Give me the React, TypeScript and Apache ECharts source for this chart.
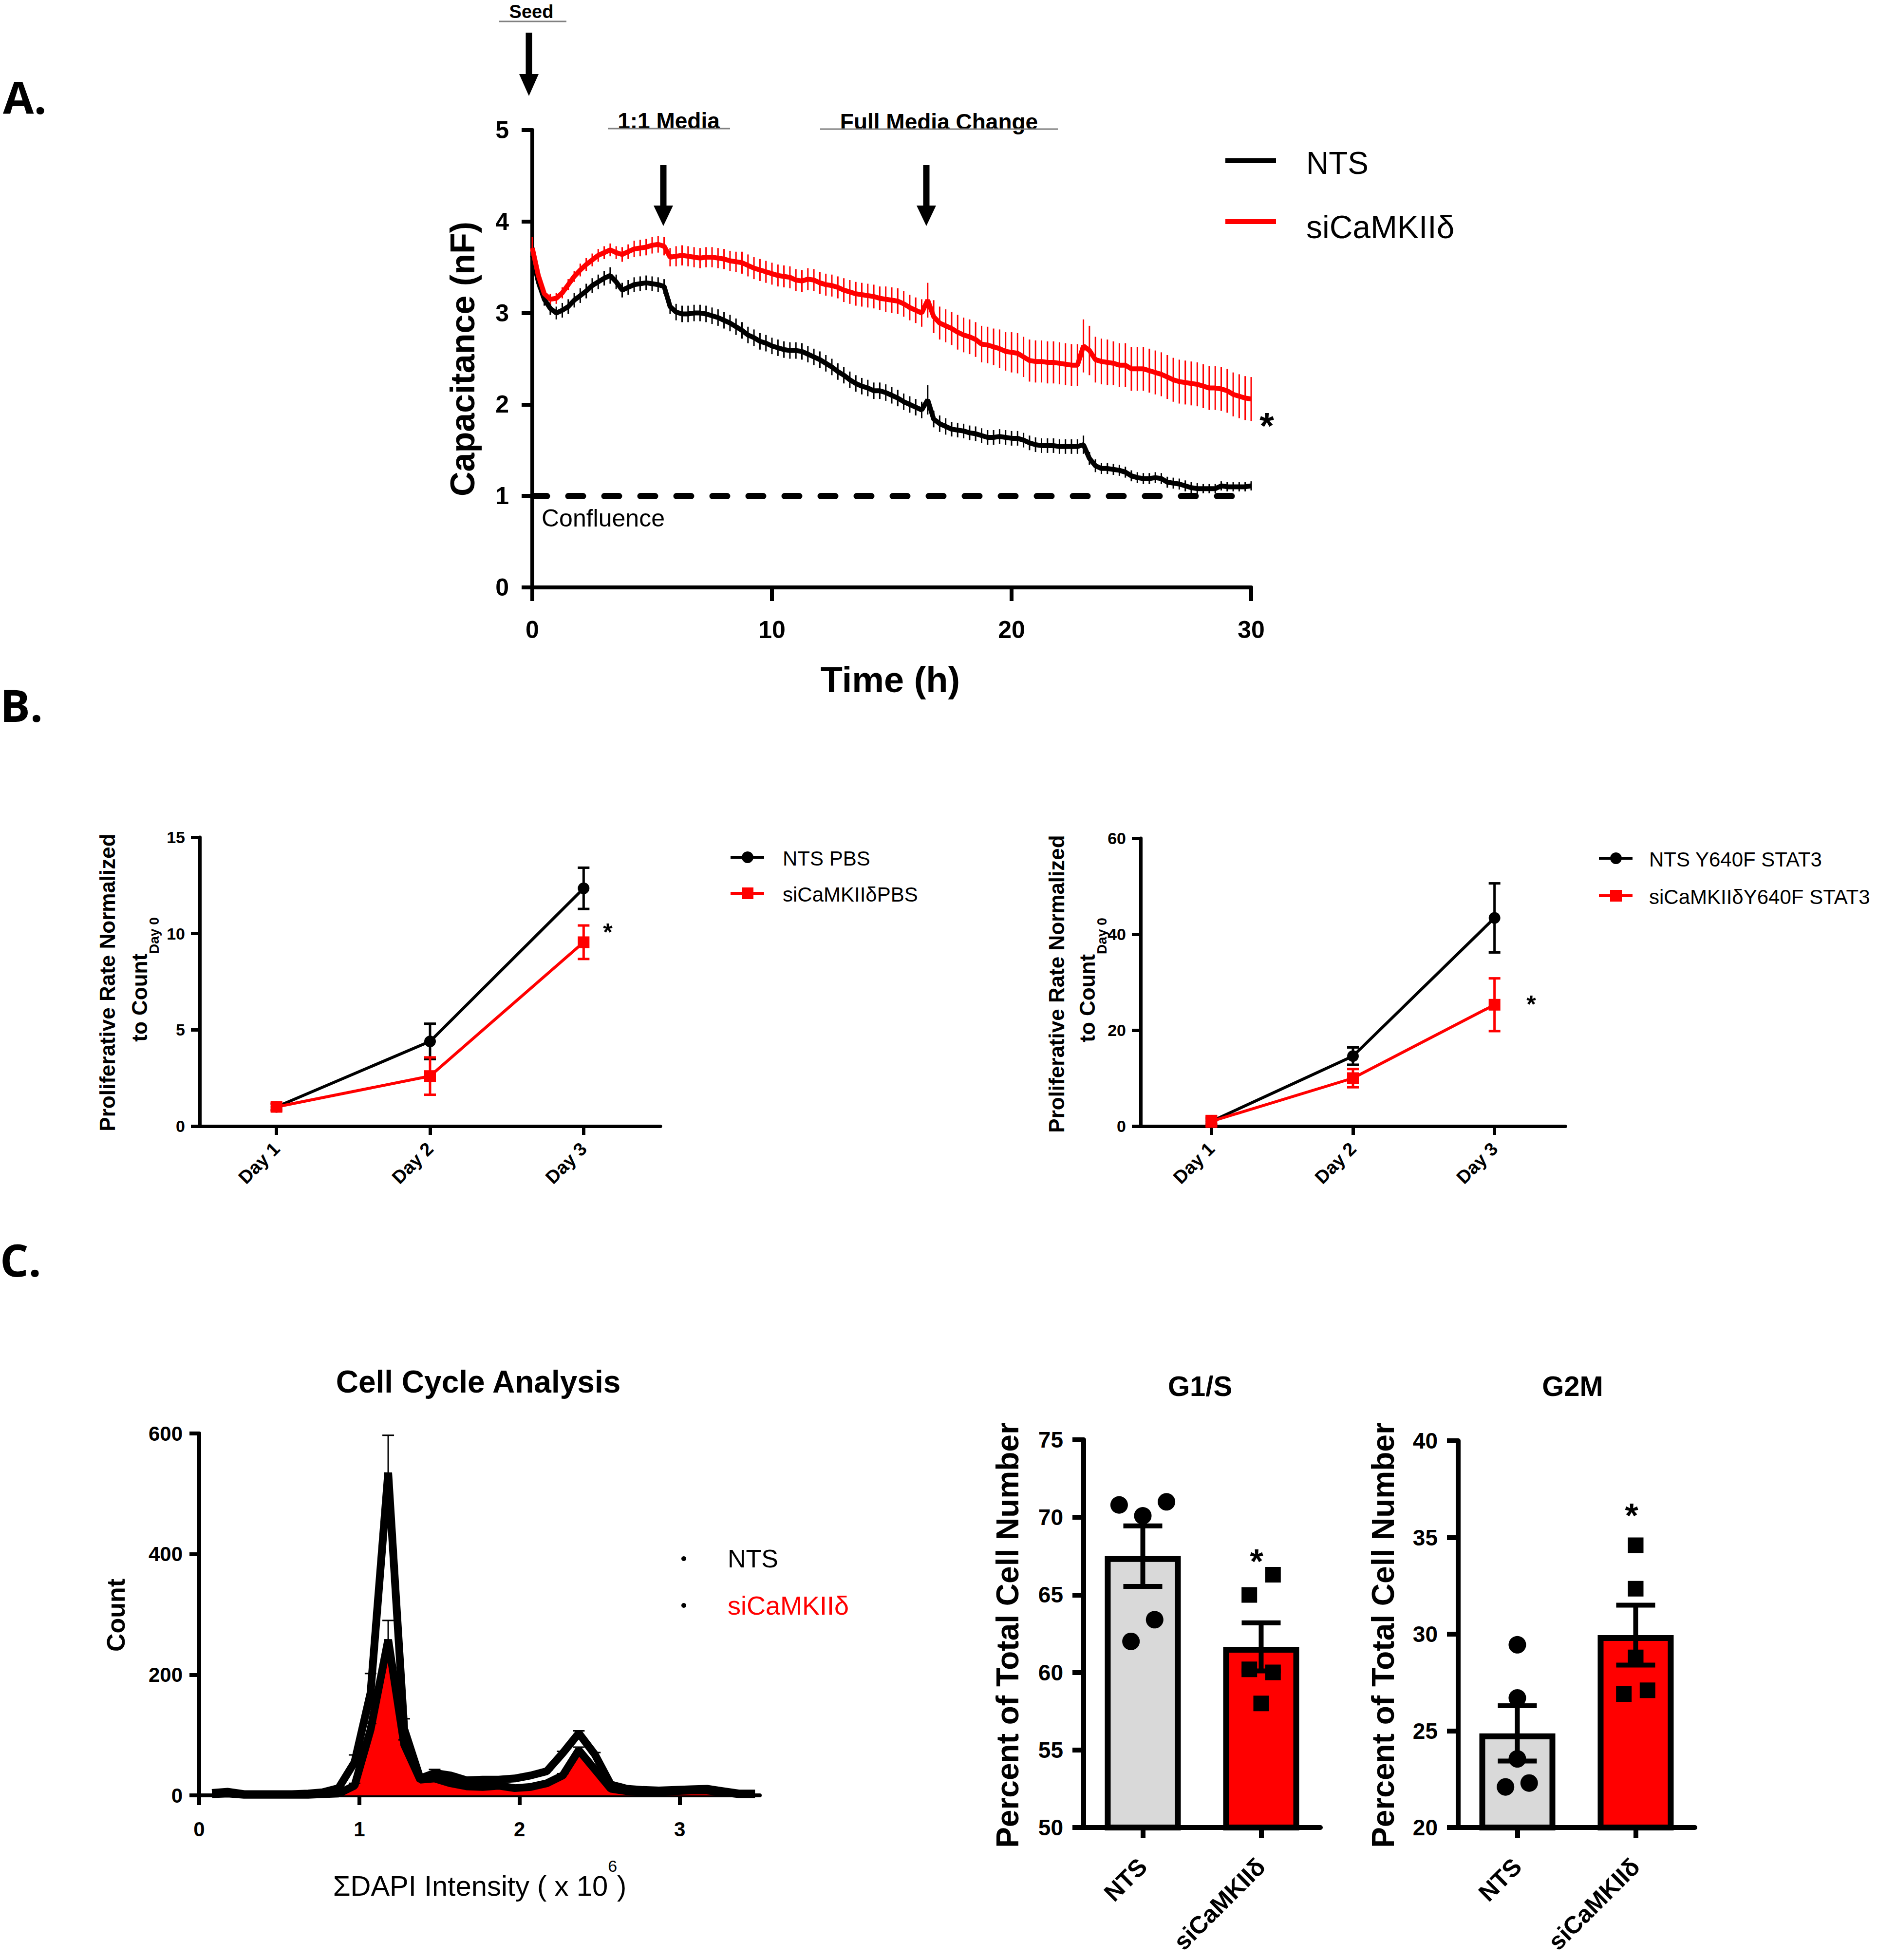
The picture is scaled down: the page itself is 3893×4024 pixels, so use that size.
import React, { useEffect, useRef } from "react";
import * as echarts from "echarts";

// ---------------- Panel A: capacitance time course ----------------
const timeH = [
  0, 0.25, 0.5, 0.75, 1, 1.25, 1.5, 1.75,
  2, 2.25, 2.5, 2.75, 3, 3.25, 3.5, 3.75,
  4, 4.25, 4.5, 4.75, 5, 5.25, 5.5, 5.75,
  6, 6.25, 6.5, 6.75, 7, 7.25, 7.5, 7.75,
  8, 8.25, 8.5, 8.75, 9, 9.25, 9.5, 9.75,
  10, 10.25, 10.5, 10.75, 11, 11.25, 11.5, 11.75,
  12, 12.25, 12.5, 12.75, 13, 13.25, 13.5, 13.75,
  14, 14.25, 14.5, 14.75, 15, 15.25, 15.5, 15.75,
  16, 16.25, 16.5, 16.75, 17, 17.25, 17.5, 17.75,
  18, 18.25, 18.5, 18.75, 19, 19.25, 19.5, 19.75,
  20, 20.25, 20.5, 20.75, 21, 21.25, 21.5, 21.75,
  22, 22.25, 22.5, 22.75, 23, 23.25, 23.5, 23.75,
  24, 24.25, 24.5, 24.75, 25, 25.25, 25.5, 25.75,
  26, 26.25, 26.5, 26.75, 27, 27.25, 27.5, 27.75,
  28, 28.25, 28.5, 28.75, 29, 29.25, 29.5, 29.75,
  30,
];
const ntsCap = [
  3.63, 3.34, 3.15, 3.05, 3.0, 3.03, 3.07, 3.14,
  3.19, 3.24, 3.3, 3.34, 3.38, 3.41, 3.34, 3.25,
  3.28, 3.31, 3.32, 3.33, 3.32, 3.31, 3.29, 3.07,
  3.01, 2.99, 2.99, 3.0, 3.0, 2.99, 2.97, 2.95,
  2.92, 2.89, 2.85, 2.81, 2.76, 2.73, 2.69, 2.67,
  2.64, 2.62, 2.6, 2.59, 2.59, 2.58, 2.55, 2.52,
  2.49, 2.45, 2.41, 2.36, 2.32, 2.27, 2.23, 2.2,
  2.18, 2.15, 2.15, 2.13, 2.1, 2.07, 2.03, 2.0,
  1.97, 1.94, 2.05, 1.84, 1.79, 1.76, 1.73, 1.72,
  1.71, 1.69, 1.68, 1.66, 1.64, 1.64, 1.65, 1.64,
  1.63, 1.63, 1.61, 1.58, 1.56, 1.55, 1.55, 1.55,
  1.54, 1.54, 1.54, 1.54, 1.56, 1.41, 1.33, 1.3,
  1.3, 1.29, 1.28, 1.26, 1.22, 1.2, 1.19, 1.19,
  1.2, 1.19, 1.15, 1.14, 1.13, 1.11, 1.09, 1.08,
  1.08, 1.08, 1.08, 1.11, 1.1, 1.1, 1.1, 1.1,
  1.11,
];
const ntsCapErr = [
  0.08, 0.07, 0.07, 0.07, 0.07, 0.08, 0.08, 0.08,
  0.08, 0.08, 0.08, 0.08, 0.08, 0.09, 0.08, 0.08,
  0.08, 0.08, 0.08, 0.08, 0.08, 0.08, 0.08, 0.08,
  0.09, 0.09, 0.09, 0.09, 0.09, 0.09, 0.09, 0.09,
  0.09, 0.09, 0.09, 0.09, 0.09, 0.09, 0.09, 0.09,
  0.09, 0.09, 0.09, 0.09, 0.09, 0.09, 0.09, 0.09,
  0.09, 0.09, 0.09, 0.09, 0.09, 0.09, 0.09, 0.09,
  0.09, 0.09, 0.09, 0.09, 0.09, 0.09, 0.09, 0.09,
  0.09, 0.09, 0.16, 0.09, 0.09, 0.09, 0.08, 0.08,
  0.08, 0.08, 0.08, 0.08, 0.08, 0.08, 0.08, 0.08,
  0.08, 0.08, 0.08, 0.08, 0.08, 0.08, 0.08, 0.08,
  0.08, 0.08, 0.08, 0.08, 0.1, 0.07, 0.07, 0.06,
  0.06, 0.06, 0.06, 0.06, 0.06, 0.06, 0.06, 0.06,
  0.06, 0.06, 0.06, 0.06, 0.06, 0.06, 0.06, 0.06,
  0.05, 0.05, 0.05, 0.05, 0.05, 0.05, 0.05, 0.05,
  0.05,
];
const siCap = [
  3.71, 3.41, 3.21, 3.15, 3.16, 3.22, 3.31, 3.4,
  3.47, 3.53, 3.58, 3.63, 3.66, 3.69, 3.66, 3.64,
  3.67, 3.7, 3.71, 3.72, 3.74, 3.75, 3.73, 3.61,
  3.62, 3.63, 3.62, 3.61, 3.6, 3.61, 3.61, 3.6,
  3.59, 3.57, 3.56, 3.55, 3.52, 3.49, 3.47, 3.45,
  3.43, 3.41, 3.4, 3.39, 3.36, 3.35, 3.37, 3.36,
  3.33, 3.31, 3.3, 3.28, 3.25, 3.23, 3.21, 3.2,
  3.19, 3.18, 3.16, 3.15, 3.14, 3.13, 3.1, 3.06,
  3.03, 3.0, 3.14, 2.96, 2.89, 2.86, 2.83, 2.79,
  2.76, 2.74, 2.71, 2.66, 2.65, 2.63, 2.61, 2.58,
  2.57, 2.56, 2.52, 2.48, 2.47, 2.47, 2.46, 2.46,
  2.45, 2.44, 2.43, 2.43, 2.64, 2.59, 2.49, 2.47,
  2.46, 2.45, 2.43, 2.43, 2.39, 2.39, 2.39, 2.37,
  2.35, 2.33, 2.3, 2.27, 2.25, 2.24, 2.23, 2.22,
  2.2, 2.18, 2.18, 2.17, 2.15, 2.11, 2.09, 2.07,
  2.06,
];
const siCapErr = [
  0.12, 0.06, 0.06, 0.06, 0.06, 0.06, 0.06, 0.06,
  0.07, 0.07, 0.07, 0.07, 0.07, 0.07, 0.07, 0.08,
  0.08, 0.09, 0.09, 0.09, 0.09, 0.09, 0.1, 0.1,
  0.11, 0.11, 0.11, 0.11, 0.11, 0.11, 0.11, 0.11,
  0.11, 0.11, 0.11, 0.12, 0.12, 0.12, 0.12, 0.12,
  0.12, 0.12, 0.12, 0.12, 0.12, 0.12, 0.12, 0.12,
  0.12, 0.12, 0.12, 0.12, 0.13, 0.13, 0.13, 0.13,
  0.13, 0.13, 0.13, 0.14, 0.14, 0.14, 0.14, 0.14,
  0.14, 0.15, 0.19, 0.18, 0.18, 0.18, 0.18, 0.19,
  0.19, 0.19, 0.19, 0.2, 0.2, 0.2, 0.21, 0.21,
  0.22, 0.22, 0.22, 0.23, 0.23, 0.23, 0.23, 0.23,
  0.23, 0.23, 0.23, 0.23, 0.29, 0.27, 0.25, 0.25,
  0.25, 0.24, 0.24, 0.24, 0.24, 0.24, 0.24, 0.24,
  0.24, 0.24, 0.24, 0.24, 0.24, 0.24, 0.24, 0.24,
  0.24, 0.24, 0.24, 0.24, 0.24, 0.24, 0.24, 0.24,
  0.24,
];
const confluenceLevel = 1;

// ---------------- Panel B: proliferation ----------------
const days = ["Day 1", "Day 2", "Day 3"];
const ntsPbs = [1.0, 4.4, 12.35];
const ntsPbsErr = [0.15, 0.92, 1.07];
const siPbs = [1.0, 2.6, 9.55];
const siPbsErr = [0.2, 0.97, 0.87];
const ntsStat3 = [1.0, 14.6, 43.4];
const ntsStat3Err = [0.6, 1.8, 7.2];
const siStat3 = [1.0, 10.0, 25.3];
const siStat3Err = [1.1, 1.9, 5.5];

// ---------------- Panel C: cell cycle histogram ----------------
const histX = [
  0.08, 0.18, 0.28, 0.38, 0.48, 0.58, 0.68, 0.77, 0.87, 0.97,
  1.07, 1.18, 1.28, 1.38, 1.47, 1.57, 1.67, 1.77, 1.87, 1.97,
  2.07, 2.17, 2.27, 2.37, 2.47, 2.57, 2.67, 2.77, 2.87, 2.97,
  3.07, 3.17, 3.27, 3.37, 3.47,
];
const ntsCount = [
  4, 6, 2, 2, 2, 2, 3, 5, 12, 55,
  170, 535, 110, 28, 37, 33, 25, 26, 26, 28,
  33, 40, 70, 103, 68, 18, 11, 9, 8, 9,
  10, 11, 7, 3, 3,
];
const ntsCountErr = [
  0, 0, 0, 0, 0, 0, 0, 0, 0, 12,
  32, 62, 17, 0, 6, 3, 0, 0, 0, 0,
  2, 2, 3, 4, 3, 2, 0, 0, 0, 0,
  0, 0, 0, 0, 0,
];
const siCount = [
  2, 3, 1, 1, 1, 1, 1, 2, 3, 16,
  109, 258, 84, 26, 28, 20, 15, 14, 16, 12,
  14, 20, 33, 75, 43, 11, 7, 6, 6, 7,
  8, 8, 5, 2, 2,
];
const siCountErr = [
  0, 0, 0, 0, 0, 0, 0, 0, 0, 4,
  10, 32, 8, 0, 0, 0, 0, 0, 0, 0,
  0, 0, 3, 5, 3, 0, 0, 0, 0, 0,
  0, 0, 0, 0, 0,
];
const histTicks = [0, 1, 2, 3];

// ---------------- Panel C: G1/S and G2M bars ----------------
const groups = ["NTS", "siCaMKIIδ"];
const g1sMean = [67.5, 61.65];
const g1sSem = [1.95, 1.55];
const g1sNtsPts = [70.8, 70.1, 71.0, 63.4, 62.0];
const g1sNtsJitter = [-0.2, 0, 0.2, 0.1, -0.1];
const g1sSiPts = [65.0, 66.3, 60.2, 60.0, 58.0];
const g1sSiJitter = [-0.1, 0.1, -0.1, 0.1, 0];
const g2mMean = [24.87, 29.95];
const g2mSem = [1.43, 1.55];
const g2mNtsPts = [29.45, 26.7, 23.55, 22.1, 22.3];
const g2mNtsJitter = [0, 0, 0, -0.1, 0.1];
const g2mSiPts = [34.6, 32.35, 28.8, 26.9, 27.1];
const g2mSiJitter = [0, 0, 0, -0.1, 0.1];

// ---------------- styling ----------------
const W = 3893;
const H = 4024;
const BLACK = "#000000";
const RED = "#ff0000";
const GREY = "#d9d9d9";
const F = "'Liberation Sans', Arial, Helvetica, sans-serif";
const PF = "'Open Sans', 'Noto Sans', 'Liberation Sans', sans-serif";

function errLine(color: string, width: number) {
  return (_p: any, api: any) => {
    const x = api.value(0), y = api.value(1), e = api.value(2);
    const a = api.coord([x, y - e]);
    const b = api.coord([x, y + e]);
    return { type: "line", shape: { x1: a[0], y1: a[1], x2: b[0], y2: b[1] }, style: { stroke: color, lineWidth: width } };
  };
}

function errCap(color: string, width: number, half: number, up = true, down = true) {
  return (_p: any, api: any) => {
    const x = api.value(0), y = api.value(1), e = api.value(2);
    const c = api.coord([x, y]);
    const hi = api.coord([x, y + e]);
    const lo = api.coord([x, y - e]);
    const top = up ? hi[1] : c[1];
    const bot = down ? lo[1] : c[1];
    const st = { stroke: color, lineWidth: width };
    const children: any[] = [{ type: "line", shape: { x1: c[0], y1: top, x2: c[0], y2: bot }, style: st }];
    if (up) children.push({ type: "line", shape: { x1: c[0] - half, y1: hi[1], x2: c[0] + half, y2: hi[1] }, style: st });
    if (down) children.push({ type: "line", shape: { x1: c[0] - half, y1: lo[1], x2: c[0] + half, y2: lo[1] }, style: st });
    return { type: "group", children };
  };
}

function dots(kind: "circle" | "rect", size: number, color: string) {
  return (_p: any, api: any) => {
    const v = api.value(1);
    const c = api.coord([api.value(0), v]);
    const band = Math.abs(api.coord([1, v])[0] - api.coord([0, v])[0]);
    const cx = c[0] + api.value(2) * band;
    if (kind === "circle") {
      return { type: "circle", shape: { cx, cy: c[1], r: size / 2 }, style: { fill: color } };
    }
    return { type: "rect", shape: { x: cx - size / 2, y: c[1] - size / 2, width: size, height: size }, style: { fill: color } };
  };
}

function T(text: string, x: number, y: number, o: any = {}) {
  return {
    type: "text",
    x,
    y,
    rotation: o.rot || 0,
    z: 100,
    style: {
      text,
      fill: o.color || BLACK,
      fontSize: o.size || 40,
      fontWeight: o.bold ? "bold" : "normal",
      fontFamily: o.family || F,
      align: o.align || "center",
      verticalAlign: o.va || "middle",
      rich: o.rich,
    },
  };
}
function L(x1: number, y1: number, x2: number, y2: number, color: string, w: number) {
  return { type: "line", z: 100, shape: { x1, y1, x2, y2 }, style: { stroke: color, lineWidth: w } };
}
function arrow(cx: number, top: number, headTop: number, tip: number) {
  return [
    { type: "rect", z: 100, shape: { x: cx - 6.5, y: top, width: 13, height: headTop - top + 2 }, style: { fill: BLACK } },
    { type: "polygon", z: 100, shape: { points: [[cx - 20, headTop], [cx + 20, headTop], [cx, tip]] }, style: { fill: BLACK } },
  ];
}

function axisStyle(width: number, tickLen: number, labelSize: number, margin: number, extra: any = {}) {
  return {
    axisLine: { show: true, onZero: false, lineStyle: { color: BLACK, width } },
    axisTick: { show: true, length: tickLen, lineStyle: { color: BLACK, width }, ...(extra.tick || {}) },
    axisLabel: { color: BLACK, fontSize: labelSize, fontWeight: "bold", fontFamily: F, margin, ...(extra.label || {}) },
    splitLine: { show: false },
  };
}

function buildOption() {
  const grids = [
    { left: 1093, top: 267, width: 1476, height: 939 },
    { left: 410, top: 1719, width: 946, height: 593 },
    { left: 2342, top: 1721, width: 872, height: 591 },
    { left: 409, top: 2943, width: 1151, height: 743 },
    { left: 2225, top: 2956, width: 486, height: 796 },
    { left: 2994, top: 2958, width: 486, height: 794 },
  ];

  const xAxis: any[] = [
    { type: "value", gridIndex: 0, min: 0, max: 30, interval: 10, ...axisStyle(8, 28, 50, 62) },
    { type: "category", gridIndex: 1, data: days, boundaryGap: true, ...axisStyle(7, 18, 38, 40, { tick: { alignWithLabel: true }, label: { rotate: 45 } }) },
    { type: "category", gridIndex: 2, data: days, boundaryGap: true, ...axisStyle(7, 18, 38, 40, { tick: { alignWithLabel: true }, label: { rotate: 45 } }) },
    {
      type: "value", gridIndex: 3, min: 0, max: 3.5, interval: 1,
      ...axisStyle(8, 20, 42, 48, {
        tick: { customValues: histTicks },
        label: { customValues: histTicks, formatter: (v: number) => (Number.isInteger(v) ? String(v) : "") },
      }),
    },
    { type: "category", gridIndex: 4, data: groups, boundaryGap: true, ...axisStyle(10, 22, 50, 72, { tick: { alignWithLabel: true }, label: { rotate: 45 } }) },
    { type: "category", gridIndex: 5, data: groups, boundaryGap: true, ...axisStyle(10, 22, 50, 72, { tick: { alignWithLabel: true }, label: { rotate: 45 } }) },
  ];
  const yAxis: any[] = [
    { type: "value", gridIndex: 0, min: 0, max: 5, interval: 1, ...axisStyle(8, 22, 50, 48) },
    { type: "value", gridIndex: 1, min: 0, max: 15, interval: 5, ...axisStyle(7, 18, 34, 30) },
    { type: "value", gridIndex: 2, min: 0, max: 60, interval: 20, ...axisStyle(7, 18, 34, 30) },
    { type: "value", gridIndex: 3, min: 0, max: 600, interval: 200, ...axisStyle(8, 20, 42, 34) },
    { type: "value", gridIndex: 4, min: 50, max: 75, interval: 5, ...axisStyle(10, 23, 46, 42) },
    { type: "value", gridIndex: 5, min: 20, max: 40, interval: 5, ...axisStyle(10, 23, 46, 42) },
  ];

  const series: any[] = [
    // ---- A ----
    {
      type: "custom", xAxisIndex: 0, yAxisIndex: 0, z: 2, clip: false,
      data: timeH.map((t, i) => [t, ntsCap[i], ntsCapErr[i]]),
      renderItem: errLine(BLACK, 3),
    },
    {
      type: "custom", xAxisIndex: 0, yAxisIndex: 0, z: 2, clip: false,
      data: timeH.map((t, i) => [t, siCap[i], siCapErr[i]]),
      renderItem: errLine(RED, 3),
    },
    {
      type: "line", name: "NTS", xAxisIndex: 0, yAxisIndex: 0, z: 3, symbol: "none",
      data: timeH.map((t, i) => [t, ntsCap[i]]),
      lineStyle: { color: BLACK, width: 10 },
      markLine: {
        silent: true, symbol: "none", label: { show: false },
        lineStyle: { color: BLACK, width: 13, type: [30, 44], cap: "round" },
        data: [{ yAxis: confluenceLevel }],
      },
    },
    {
      type: "line", name: "siCaMKIIδ", xAxisIndex: 0, yAxisIndex: 0, z: 3, symbol: "none",
      data: timeH.map((t, i) => [t, siCap[i]]),
      lineStyle: { color: RED, width: 10 },
    },
    // ---- B left ----
    {
      type: "custom", xAxisIndex: 1, yAxisIndex: 1, z: 2,
      data: days.map((_d, i) => [i, ntsPbs[i], ntsPbsErr[i]]),
      renderItem: errCap(BLACK, 5, 12),
    },
    {
      type: "custom", xAxisIndex: 1, yAxisIndex: 1, z: 2,
      data: days.map((_d, i) => [i, siPbs[i], siPbsErr[i]]),
      renderItem: errCap(RED, 5, 12),
    },
    {
      type: "line", name: "NTS PBS", xAxisIndex: 1, yAxisIndex: 1, z: 3, data: ntsPbs,
      symbol: "circle", symbolSize: 24, itemStyle: { color: BLACK }, lineStyle: { color: BLACK, width: 6 },
    },
    {
      type: "line", name: "siCaMKIIδPBS", xAxisIndex: 1, yAxisIndex: 1, z: 3, data: siPbs,
      symbol: "rect", symbolSize: 24, itemStyle: { color: RED }, lineStyle: { color: RED, width: 6 },
    },
    // ---- B right ----
    {
      type: "custom", xAxisIndex: 2, yAxisIndex: 2, z: 2,
      data: days.map((_d, i) => [i, ntsStat3[i], ntsStat3Err[i]]),
      renderItem: errCap(BLACK, 5, 12),
    },
    {
      type: "custom", xAxisIndex: 2, yAxisIndex: 2, z: 2,
      data: days.map((_d, i) => [i, siStat3[i], siStat3Err[i]]),
      renderItem: errCap(RED, 5, 12),
    },
    {
      type: "line", name: "NTS Y640F STAT3", xAxisIndex: 2, yAxisIndex: 2, z: 3, data: ntsStat3,
      symbol: "circle", symbolSize: 24, itemStyle: { color: BLACK }, lineStyle: { color: BLACK, width: 6 },
    },
    {
      type: "line", name: "siCaMKIIδY640F STAT3", xAxisIndex: 2, yAxisIndex: 2, z: 3, data: siStat3,
      symbol: "rect", symbolSize: 24, itemStyle: { color: RED }, lineStyle: { color: RED, width: 6 },
    },
    // ---- C histogram ----
    {
      type: "line", name: "siCaMKIIδ hist", xAxisIndex: 3, yAxisIndex: 3, z: 2, symbol: "none",
      data: histX.map((x, i) => [x, siCount[i]]),
      areaStyle: { color: RED, opacity: 1 },
      lineStyle: { color: BLACK, width: 16 },
    },
    {
      type: "line", name: "NTS hist", xAxisIndex: 3, yAxisIndex: 3, z: 3, symbol: "none",
      data: histX.map((x, i) => [x, ntsCount[i]]),
      lineStyle: { color: BLACK, width: 16 },
    },
    {
      type: "custom", xAxisIndex: 3, yAxisIndex: 3, z: 4,
      data: histX.map((x, i) => [x, ntsCount[i], ntsCountErr[i]]).filter((d) => d[2] > 0),
      renderItem: errCap(BLACK, 3, 12, true, false),
    },
    {
      type: "custom", xAxisIndex: 3, yAxisIndex: 3, z: 4,
      data: histX.map((x, i) => [x, siCount[i], siCountErr[i]]).filter((d) => d[2] > 0),
      renderItem: errCap(BLACK, 3, 12, true, false),
    },
    // ---- C G1/S ----
    {
      type: "bar", xAxisIndex: 4, yAxisIndex: 4, z: 2, barWidth: 156,
      data: g1sMean.map((v, i) => ({ value: v, itemStyle: { color: i === 0 ? GREY : RED } })),
      itemStyle: { borderColor: BLACK, borderWidth: 12 },
    },
    {
      type: "custom", xAxisIndex: 4, yAxisIndex: 4, z: 3,
      data: g1sNtsPts.map((v, i) => [0, v, g1sNtsJitter[i]]),
      renderItem: dots("circle", 36, BLACK),
    },
    {
      type: "custom", xAxisIndex: 4, yAxisIndex: 4, z: 3,
      data: g1sSiPts.map((v, i) => [1, v, g1sSiJitter[i]]),
      renderItem: dots("rect", 32, BLACK),
    },
    {
      type: "custom", xAxisIndex: 4, yAxisIndex: 4, z: 4,
      data: g1sMean.map((v, i) => [i, v, g1sSem[i]]),
      renderItem: errCap(BLACK, 10, 40),
    },
    // ---- C G2M ----
    {
      type: "bar", xAxisIndex: 5, yAxisIndex: 5, z: 2, barWidth: 156,
      data: g2mMean.map((v, i) => ({ value: v, itemStyle: { color: i === 0 ? GREY : RED } })),
      itemStyle: { borderColor: BLACK, borderWidth: 12 },
    },
    {
      type: "custom", xAxisIndex: 5, yAxisIndex: 5, z: 3,
      data: g2mNtsPts.map((v, i) => [0, v, g2mNtsJitter[i]]),
      renderItem: dots("circle", 36, BLACK),
    },
    {
      type: "custom", xAxisIndex: 5, yAxisIndex: 5, z: 3,
      data: g2mSiPts.map((v, i) => [1, v, g2mSiJitter[i]]),
      renderItem: dots("rect", 32, BLACK),
    },
    {
      type: "custom", xAxisIndex: 5, yAxisIndex: 5, z: 4,
      data: g2mMean.map((v, i) => [i, v, g2mSem[i]]),
      renderItem: errCap(BLACK, 10, 40),
    },
  ];

  const subRich = {
    a: { fontSize: 44, fontWeight: "bold", fontFamily: F, lineHeight: 44, verticalAlign: "top", fill: BLACK },
    b: { fontSize: 28, fontWeight: "bold", fontFamily: F, lineHeight: 104, verticalAlign: "middle", fill: BLACK },
  };
  const supRich = {
    m: { fontSize: 58, fontFamily: F, lineHeight: 86, verticalAlign: "bottom", fill: BLACK },
    s: { fontSize: 34, fontFamily: F, lineHeight: 30, verticalAlign: "top", fill: BLACK },
  };
  const R = Math.PI / 2;

  const graphics: any[] = [
    // panel letters
    T("A.", 6, 198, { size: 92, bold: true, family: PF, align: "left" }),
    T("B.", 0, 1446, { size: 92, bold: true, family: PF, align: "left" }),
    T("C.", 0, 2585, { size: 92, bold: true, family: PF, align: "left" }),

    // Panel A annotations
    T("Seed", 1091, 24, { size: 38, bold: true }),
    L(1025, 44, 1163, 44, "#808080", 3),
    ...arrow(1086, 67, 152, 197),
    T("1:1 Media", 1373, 248, { size: 46, bold: true }),
    L(1248, 264, 1499, 264, "#808080", 3),
    ...arrow(1362, 339, 422, 464),
    T("Full Media Change", 1928, 250, { size: 46, bold: true }),
    L(1684, 265, 2172, 265, "#808080", 3),
    ...arrow(1902, 339, 422, 464),
    L(2516, 330, 2620, 330, BLACK, 10),
    L(2516, 455, 2620, 455, RED, 10),
    T("NTS", 2682, 335, { size: 64, align: "left" }),
    T("siCaMKIIδ", 2682, 466, { size: 66, align: "left" }),
    T("Capacitance (nF)", 950, 737, { size: 70, bold: true, rot: R }),
    T("Time (h)", 1828, 1395, { size: 74, bold: true }),
    T("Confluence", 1112, 1064, { size: 50, align: "left" }),
    T("*", 2601, 873, { size: 76, bold: true }),

    // Panel B left
    T("Proliferative Rate Normalized", 220, 2017, { size: 44, bold: true, rot: R }),
    { ...T("{a|to Count}{b|Day 0}", 316, 2011, { rot: R, rich: subRich }) },
    L(1500, 1760, 1569, 1760, BLACK, 6),
    { type: "circle", z: 100, shape: { cx: 1535, cy: 1760, r: 12 }, style: { fill: BLACK } },
    L(1500, 1834, 1569, 1834, RED, 6),
    { type: "rect", z: 100, shape: { x: 1523, y: 1822, width: 24, height: 24 }, style: { fill: RED } },
    T("NTS PBS", 1607, 1762, { size: 42, align: "left" }),
    T("siCaMKIIδPBS", 1607, 1836, { size: 42, align: "left" }),
    T("*", 1248, 1914, { size: 50, bold: true }),

    // Panel B right
    T("Proliferative Rate Normalized", 2169, 2020, { size: 44, bold: true, rot: R }),
    { ...T("{a|to Count}{b|Day 0}", 2262, 2012, { rot: R, rich: subRich }) },
    L(3283, 1762, 3352, 1762, BLACK, 6),
    { type: "circle", z: 100, shape: { cx: 3318, cy: 1762, r: 12 }, style: { fill: BLACK } },
    L(3283, 1839, 3352, 1839, RED, 6),
    { type: "rect", z: 100, shape: { x: 3306, y: 1827, width: 24, height: 24 }, style: { fill: RED } },
    T("NTS Y640F STAT3", 3386, 1764, { size: 42, align: "left" }),
    T("siCaMKIIδY640F STAT3", 3386, 1841, { size: 42, align: "left" }),
    T("*", 3144, 2062, { size: 50, bold: true }),

    // Panel C histogram
    T("Cell Cycle Analysis", 982, 2837, { size: 64, bold: true }),
    T("Count", 238, 3316, { size: 52, bold: true, rot: R }),
    T("{m|ΣDAPI Intensity ( x 10}{s|6}{m|)}", 985, 3857, { rich: supRich }),
    { type: "circle", z: 100, shape: { cx: 1404, cy: 3200, r: 5 }, style: { fill: BLACK } },
    { type: "circle", z: 100, shape: { cx: 1404, cy: 3296, r: 5 }, style: { fill: BLACK } },
    T("NTS", 1494, 3200, { size: 52, align: "left" }),
    T("siCaMKIIδ", 1494, 3296, { size: 54, align: "left", color: RED }),

    // Panel C bars
    T("G1/S", 2464, 2845, { size: 58, bold: true }),
    T("G2M", 3229, 2845, { size: 58, bold: true }),
    T("Percent of Total Cell Number", 2069, 3357, { size: 64, bold: true, rot: R }),
    T("Percent of Total Cell Number", 2840, 3357, { size: 64, bold: true, rot: R }),
    T("*", 2580, 3206, { size: 70, bold: true }),
    T("*", 3350, 3112, { size: 70, bold: true }),
  ];

  return {
    animation: false,
    backgroundColor: "#ffffff",
    grid: grids,
    xAxis,
    yAxis,
    series,
    graphic: { elements: graphics },
  };
}

export default function App() {
  const ref = useRef<HTMLDivElement>(null);
  useEffect(() => {
    document.body.style.margin = "0";
    const chart = echarts.init(ref.current as HTMLDivElement, null, { renderer: "svg", width: W, height: H });
    chart.setOption(buildOption() as any);
    return () => chart.dispose();
  }, []);
  return <div ref={ref} style={{ position: "absolute", left: 0, top: 0, width: W, height: H, background: "#fff" }} />;
}
